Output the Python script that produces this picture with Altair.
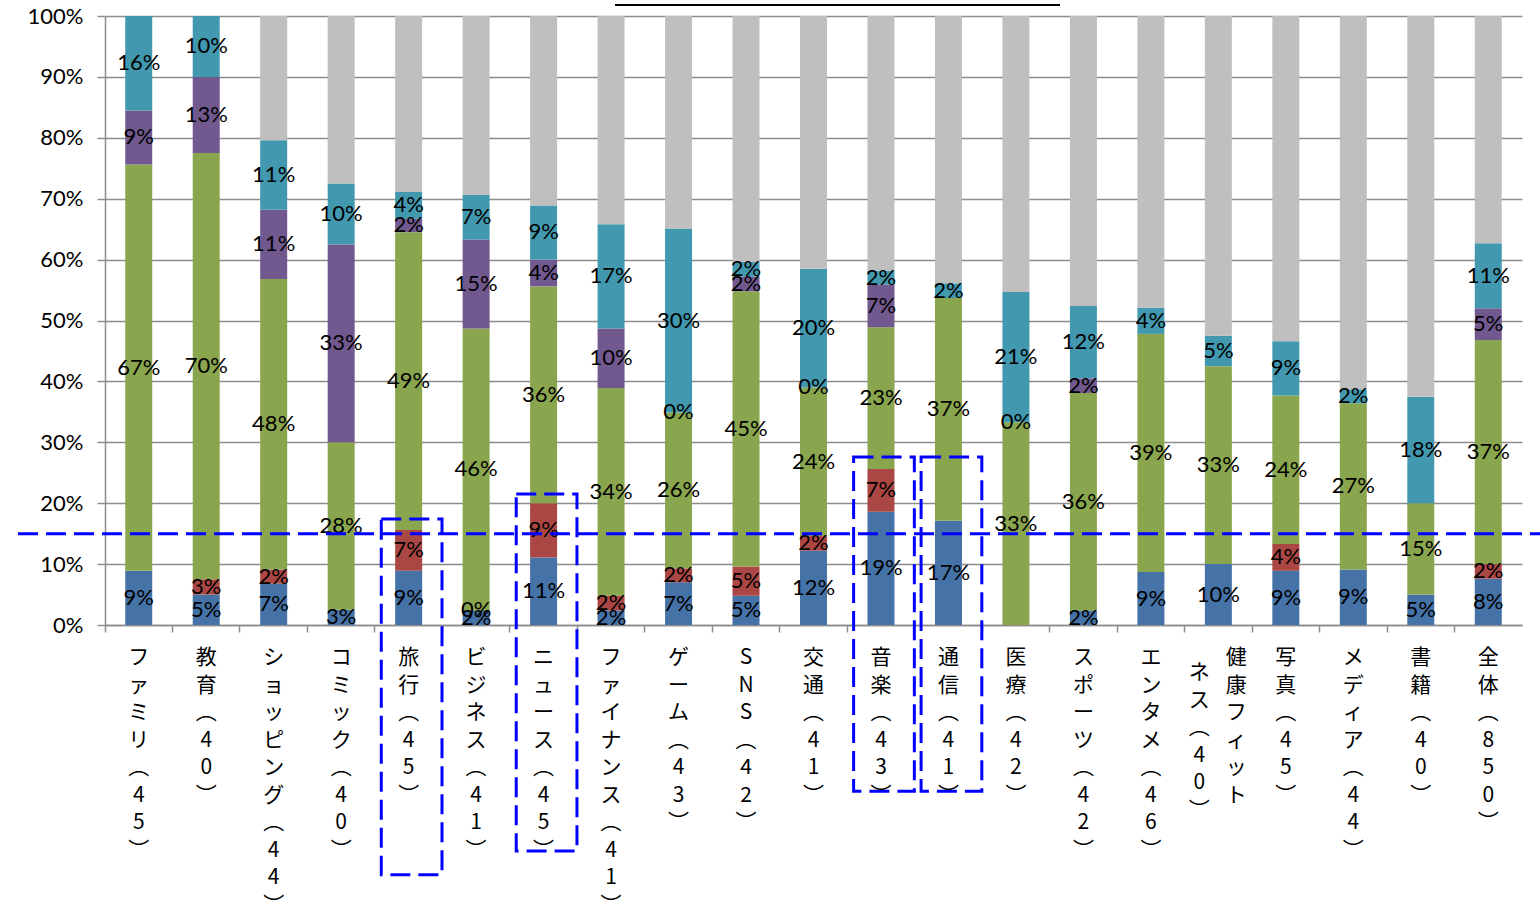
import altair as alt
import pandas as pd

# Categories (respondent count in brackets)
categories = [
    "ファミリ(45)", "教育(40)", "ショッピング(44)", "コミック(40)", "旅行(45)",
    "ビジネス(41)", "ニュース(45)", "ファイナンス(41)", "ゲーム(43)", "SNS(42)",
    "交通(41)", "音楽(43)", "通信(41)", "医療(42)", "スポーツ(42)", "エンタメ(46)",
    "健康フィットネス(40)", "写真(45)", "メディア(44)", "書籍(40)", "全体(850)",
]

# Share of respondents per segment, in percent (None = segment not present)
seg1 = [8.9, 5.0, 6.8, 2.5, 8.9, 2.4, 11.1, 2.4, 7.0, 4.8, 12.2, 18.6, 17.1, None,
        2.4, 8.7, 10.0, 8.9, 9.1, 5.0, 7.6]
seg2 = [None, 2.5, 2.3, None, 6.7, 0, 8.9, 2.4, 2.3, 4.8, 2.4, 7.0, None, None,
        None, None, None, 4.4, None, None, 2.4]
seg3 = [66.7, 70.0, 47.7, 27.5, 48.9, 46.3, 35.6, 34.1, 25.6, 45.2, 24.4, 23.3, 36.6,
        33.3, 35.7, 39.1, 32.5, 24.4, 27.3, 15.0, 36.8]
seg4 = [8.9, 12.5, 11.4, 32.5, 2.2, 14.6, 4.4, 9.8, 0, 2.4, 0, 7.0, None, 0,
        2.4, None, None, None, None, None, 5.2]
seg5 = [15.5, 10.0, 11.4, 10.0, 4.4, 7.3, 8.9, 17.1, 30.2, 2.4, 19.5, 2.3, 2.4, 21.4,
        11.9, 4.3, 5.0, 8.9, 2.3, 17.5, 10.7]

series_names = ["seg1", "seg2", "seg3", "seg4", "seg5", "rest"]
series_colors = ["#4572A7", "#AA4643", "#89A54E", "#71588F", "#4198AF", "#BFBFBF"]

# Reference level and highlighted categories
reference_level = 15
highlight_cats = ["旅行(45)", "ニュース(45)", "音楽(43)", "通信(41)"]
highlight_top = [17.4, 21.5, 27.6, 27.6]
highlight_bottom = [-41.0, -37.1, -27.3, -27.3]

# Category names that are written in two vertical columns
label_columns = {"健康フィットネス(40)": ["健康フィット", "ネス(40)"]}

# ---- tables built from the lists above ----
rows = []
for i, cat in enumerate(categories):
    parts = [seg1[i], seg2[i], seg3[i], seg4[i], seg5[i]]
    total = sum(v for v in parts if v is not None)
    for k, v in enumerate(parts):
        if v is None:
            continue
        rows.append(dict(category=cat, series=series_names[k], order=k, value=v, labelled=True))
    rows.append(dict(category=cat, series="rest", order=5, value=max(0.0, 100 - total), labelled=False))
df = pd.DataFrame(rows)


def vertical(s):
    s = s.replace("(", "︵").replace(")", "︶")
    return "\n".join(list(s))


lab_rows = []
for cat in categories:
    cols = label_columns.get(cat, [cat])
    for j, part in enumerate(cols):
        kind = "single" if len(cols) == 1 else ("right" if j == 0 else "left")
        lab_rows.append(dict(category=cat, text=vertical(part), kind=kind))
lab_df = pd.DataFrame(lab_rows)

box_df = pd.DataFrame(dict(category=highlight_cats, top=highlight_top, bottom=highlight_bottom))
ref_df = pd.DataFrame(dict(level=[reference_level]))

W, H = 1417, 609
NUM_FONT = "Lato"
JP_FONT = "Noto Sans CJK JP"
GRID = "#8c8c8c"
BLUE_DASH = "#0000FF"

x_enc = alt.X(
    "category:N",
    sort=categories,
    scale=alt.Scale(domain=categories, paddingInner=0, paddingOuter=0),
    axis=alt.Axis(title=None, labels=False, bandPosition=0, tickSize=7, ticks=True,
                  domainColor=GRID, tickColor=GRID, domainWidth=1.5, tickWidth=1.5, grid=False),
)
y_scale = alt.Scale(domain=[0, 100], nice=False)
y_axis = alt.Axis(title=None, values=list(range(0, 101, 10)), labelExpr="datum.value + '%'",
                  grid=True, gridColor=GRID, gridWidth=1.5, tickSize=8, tickColor=GRID,
                  tickWidth=1.5, domainColor=GRID, domainWidth=1.5, labelPadding=14,
                  labelFont=NUM_FONT, labelFontSize=22, labelColor="#000000")

base = alt.Chart(df).transform_stack(
    stack="value", groupby=["category"], as_=["y0", "y1"],
    sort=[alt.SortField("order", order="ascending")],
)

bars = base.mark_bar(width=alt.RelativeBandSize(0.4)).encode(
    x=x_enc,
    y=alt.Y("y0:Q", scale=y_scale, axis=y_axis),
    y2="y1:Q",
    color=alt.Color("series:N", scale=alt.Scale(domain=series_names, range=series_colors), legend=None),
)

values = base.transform_filter("datum.labelled").transform_calculate(
    mid="(datum.y0 + datum.y1) / 2",
    txt="format(datum.value, '.0f') + '%'",
).mark_text(font=NUM_FONT, fontSize=22, color="#000000", baseline="middle", align="center").encode(
    x=x_enc,
    y=alt.Y("mid:Q", scale=y_scale, axis=y_axis),
    text="txt:N",
)

ref_line = alt.Chart(ref_df).mark_rule(color=BLUE_DASH, strokeWidth=3, strokeDash=[20, 8]).encode(
    y=alt.Y("level:Q", scale=y_scale, axis=y_axis),
    x=alt.value(-87),
    x2=alt.value(W + 18),
)

boxes = alt.Chart(box_df).mark_bar(
    width=alt.RelativeBandSize(0.9), filled=False, stroke=BLUE_DASH, strokeWidth=3,
    strokeDash=[20, 8], xOffset=3,
).encode(
    x=x_enc,
    y=alt.Y("top:Q", scale=y_scale, axis=y_axis),
    y2="bottom:Q",
)


def cat_labels(kind, dx=0, dy=0):
    return alt.Chart(lab_df).transform_filter(alt.datum.kind == kind).mark_text(
        font=JP_FONT, fontSize=21, color="#000000", baseline="top", align="center",
        lineBreak="\n", lineHeight=27.5, dx=dx, dy=dy,
    ).encode(x=x_enc, y=alt.value(H + 22), text="text:N")


title_rule = alt.Chart(ref_df).mark_rule(color="#000000", strokeWidth=2).encode(
    y=alt.value(-11), x=alt.value(510), x2=alt.value(955),
)

chart = alt.layer(
    bars, values, ref_line, boxes,
    cat_labels("single"), cat_labels("right", dx=18), cat_labels("left", dx=-19, dy=15),
    title_rule,
).properties(
    width=W, height=H,
    autosize=alt.AutoSizeParams(type="none"),
    padding={"left": 105, "top": 16, "right": 18, "bottom": 284},
    background="#ffffff",
).configure_view(stroke=None)

chart.save("out.html", embed_options={"renderer": "svg", "actions": False})
